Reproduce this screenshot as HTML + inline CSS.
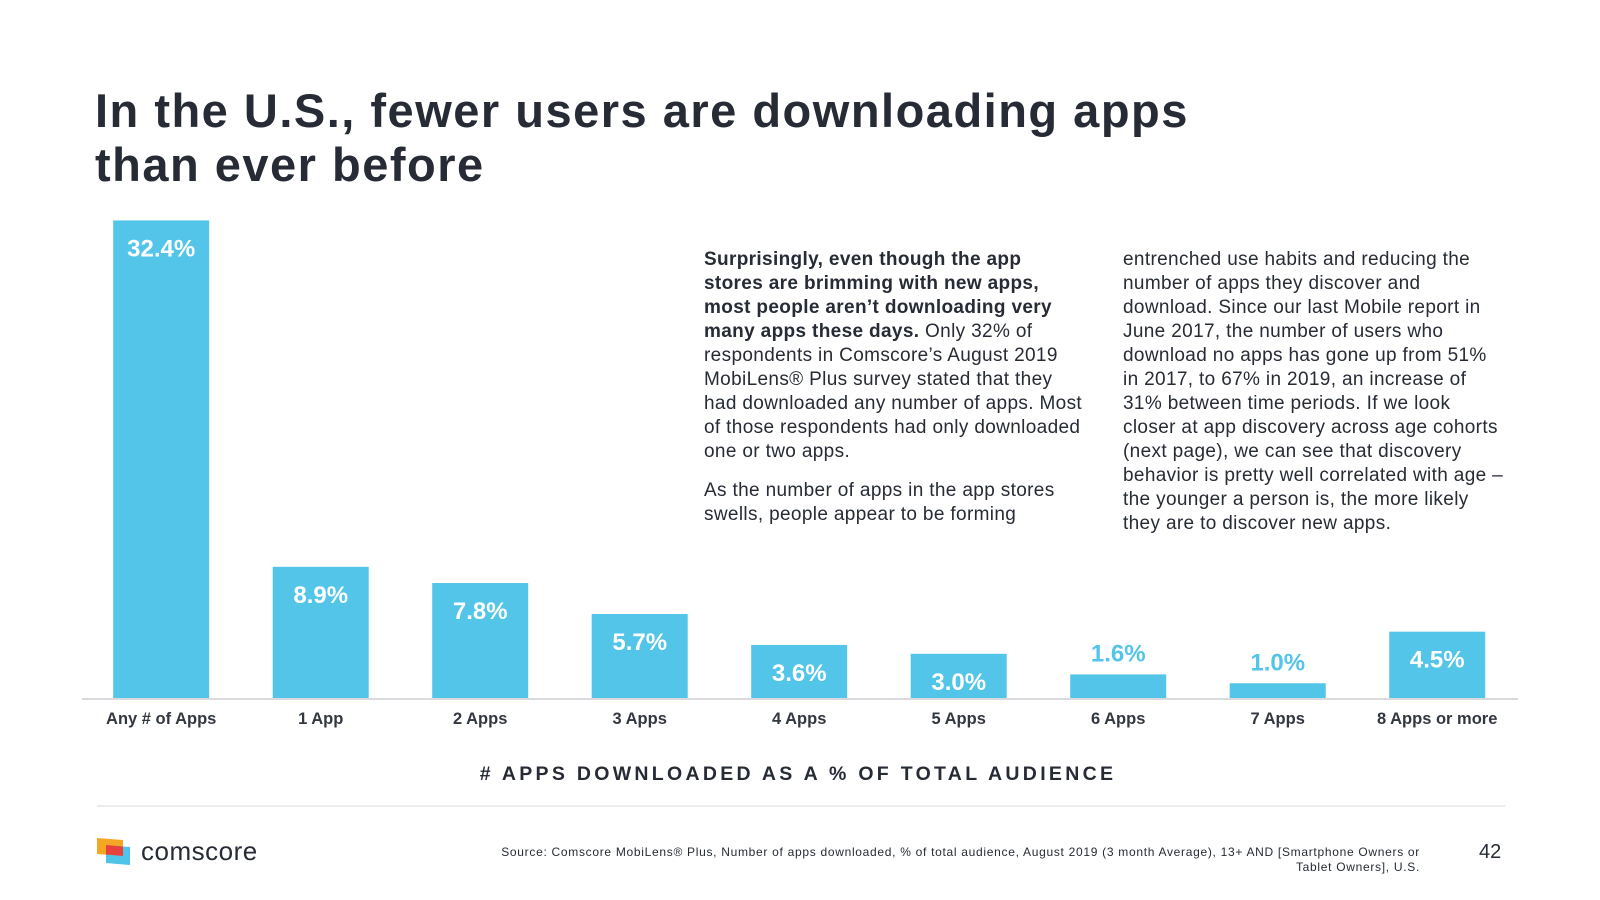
<!DOCTYPE html>
<html><head><meta charset="utf-8"><style>
body{margin:0;width:1600px;height:900px;background:#fff;font-family:"Liberation Sans",sans-serif;color:#262b35;position:relative;overflow:hidden}
.abs{position:absolute}
h1{position:absolute;left:95px;top:84px;margin:0;font-size:47px;line-height:54px;font-weight:bold;color:#262b35;letter-spacing:1.5px}
.txt{font-size:19px;line-height:24px;color:#262b35;white-space:nowrap;letter-spacing:0.35px}
.txt p{margin:0 0 15px 0}
</style></head><body>
<h1>In the U.S., fewer users are downloading apps<br>than ever before</h1>
<div class="abs txt" style="left:704px;top:248px">
<p><b>Surprisingly, even though the app<br>stores are brimming with new apps,<br>most people aren’t downloading very<br>many apps these days.</b> Only 32% of<br>respondents in Comscore’s August 2019<br>MobiLens® Plus survey stated that they<br>had downloaded any number of apps. Most<br>of those respondents had only downloaded<br>one or two apps.</p>
<p>As the number of apps in the app stores<br>swells, people appear to be forming</p></div>
<div class="abs txt" style="left:1123px;top:248px">
<p>entrenched use habits and reducing the<br>number of apps they discover and<br>download. Since our last Mobile report in<br>June 2017, the number of users who<br>download no apps has gone up from 51%<br>in 2017, to 67% in 2019, an increase of<br>31% between time periods. If we look<br>closer at app discovery across age cohorts<br>(next page), we can see that discovery<br>behavior is pretty well correlated with age –<br>the younger a person is, the more likely<br>they are to discover new apps.</p></div>
<svg class="abs" style="left:0;top:0" width="1600" height="900">
<g id="bars"></g>
<line x1="82" x2="1518" y1="699" y2="699" stroke="#d9d9de" stroke-width="2"/>
<text x="798" y="780" text-anchor="middle" font-size="19.5" font-weight="bold" letter-spacing="3.3" fill="#262b35"># APPS DOWNLOADED AS A % OF TOTAL AUDIENCE</text>
<line x1="97" x2="1505" y1="806" y2="806" stroke="#e6e6e6" stroke-width="1.5"/>
</svg>
<svg class="abs" style="left:97px;top:838px" width="35" height="29">
<polygon points="0,0 26,2 26,18 0,16" fill="#f5a623"/>
<polygon points="9,7 33,9 33,27 9,25" fill="#4fc3e8"/>
<polygon points="9,7 26,8.5 26,18 9,16.5" fill="#e8413b"/>
</svg>
<div class="abs" style="left:141px;top:836px;font-size:26px;color:#262b35;letter-spacing:0.5px">comscore</div>
<div class="abs" style="left:400px;top:845px;width:1020px;text-align:right;font-size:12px;line-height:14.5px;letter-spacing:0.7px;color:#262b35">Source: Comscore MobiLens® Plus, Number of apps downloaded, % of total audience, August 2019 (3 month Average), 13+ AND [Smartphone Owners or<br>Tablet Owners], U.S.</div>
<div class="abs" style="left:1479px;top:841px;font-size:20px;color:#262b35">42</div>
<script>
const categories=["Any # of Apps","1 App","2 Apps","3 Apps","4 Apps","5 Apps","6 Apps","7 Apps","8 Apps or more"];
const values=[32.4,8.9,7.8,5.7,3.6,3.0,1.6,1.0,4.5];
const valueLabels=["32.4%","8.9%","7.8%","5.7%","3.6%","3.0%","1.6%","1.0%","4.5%"];
const base=698,scale=14.74,x0=161.2,step=159.5,bw=96;
const yS=v=>base-v*scale, xS=i=>x0+i*step;
const g=document.getElementById('bars');const NS="http://www.w3.org/2000/svg";
categories.forEach((c,i)=>{
 const cx=xS(i),top=yS(values[i]);
 const r=document.createElementNS(NS,'rect');
 
 
 r.setAttribute('x',cx-bw/2);r.setAttribute('y',top);r.setAttribute('width',bw);r.setAttribute('height',base-top);r.setAttribute('fill','#52c5e8');g.appendChild(r);
 const inside=(base-top)>40;
 const t=document.createElementNS(NS,'text');
 
 
 t.setAttribute('x',cx);t.setAttribute('y',inside?top+36:top-13);t.setAttribute('text-anchor','middle');t.setAttribute('font-size','24');t.setAttribute('font-weight','bold');t.setAttribute('fill',inside?'#fff':'#52c5e8');t.textContent=valueLabels[i];g.appendChild(t);
 const l=document.createElementNS(NS,'text');
 
 
 l.setAttribute('x',cx);l.setAttribute('y',724);l.setAttribute('text-anchor','middle');l.setAttribute('font-size','16.5');l.setAttribute('font-weight','bold');l.setAttribute('fill','#333740');l.textContent=c;g.appendChild(l);
});
</script>
</body></html>
